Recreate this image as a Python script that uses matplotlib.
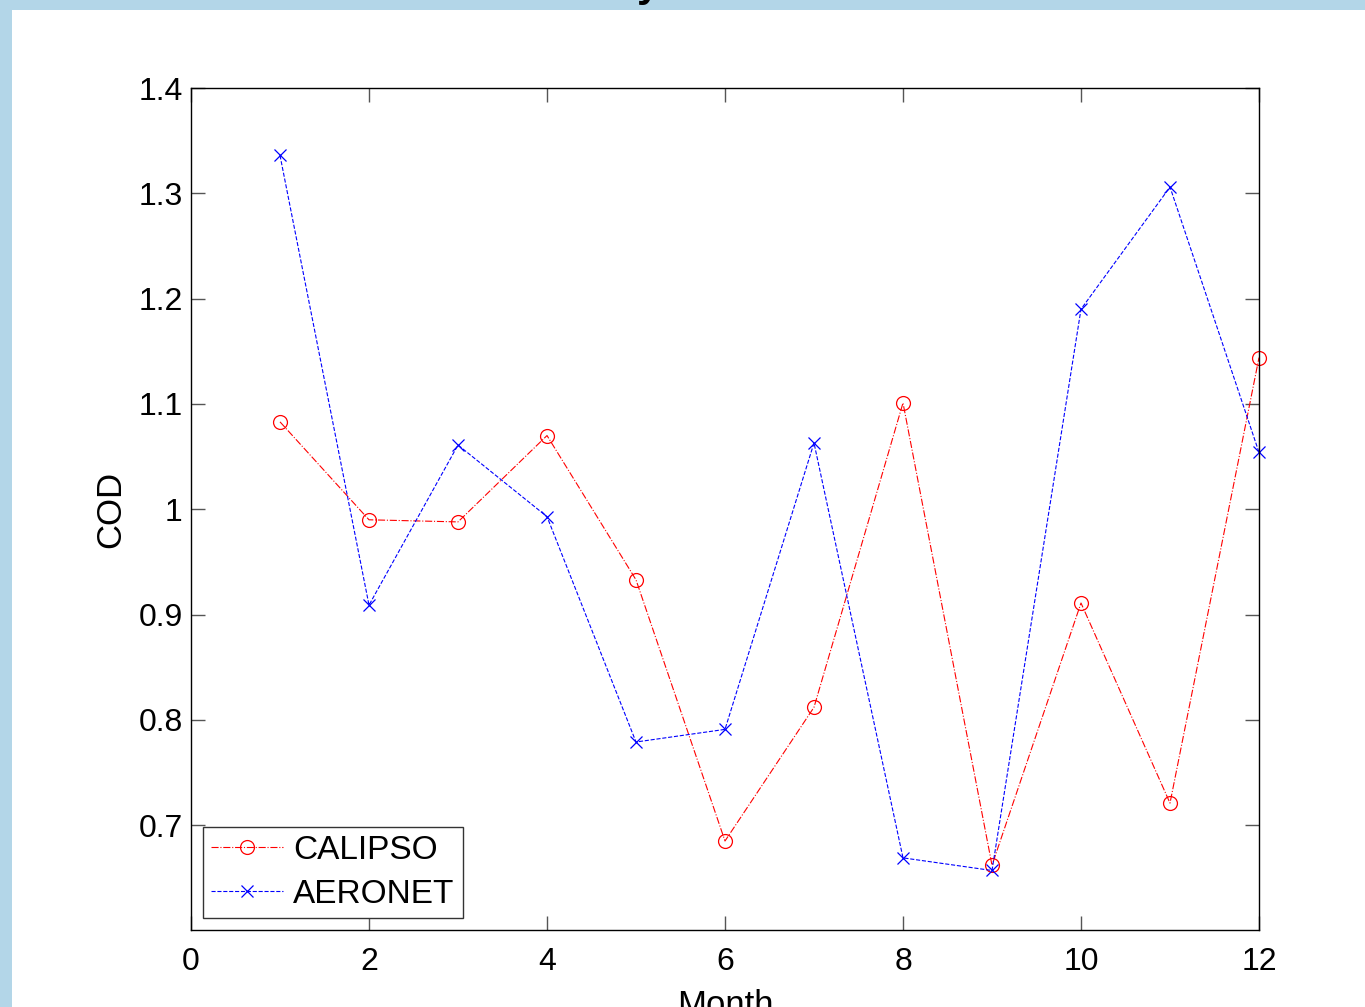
import matplotlib
matplotlib.use("Agg")
import matplotlib.pyplot as plt
from matplotlib.patches import Rectangle

months = [1, 2, 3, 4, 5, 6, 7, 8, 9, 10, 11, 12]
calipso = [1.083, 0.990, 0.988, 1.070, 0.933, 0.685, 0.812, 1.101, 0.662, 0.911, 0.721, 1.144]
aeronet = [1.336, 0.909, 1.061, 0.993, 0.779, 0.791, 1.063, 0.669, 0.657, 1.190, 1.306, 1.054]
xticks = [0, 2, 4, 6, 8, 10, 12]
yticks = [0.7, 0.8, 0.9, 1.0, 1.1, 1.2, 1.3, 1.4]
ytick_labels = ["0.7", "0.8", "0.9", "1", "1.1", "1.2", "1.3", "1.4"]

plt.rcParams['font.family'] = ['Liberation Sans', 'DejaVu Sans']

W, H = 1365, 1007
fig = plt.figure(figsize=(W / 100, H / 100), dpi=100)
fig.patch.set_facecolor('#B3D6E8')
bg = Rectangle((12 / W, 0), 1 - 12 / W, 1 - 10 / H, transform=fig.transFigure,
               facecolor='white', edgecolor='none', zorder=-10)
fig.add_artist(bg)

# partially visible title
fig.text(648 / W, 1 + 4 / H, "y", ha='center', va='baseline', fontsize=30,
         fontweight='bold', color='black', zorder=5)

ax = fig.add_axes([191 / W, (H - 930) / H, (1259 - 191) / W, (930 - 88) / H])
ax.patch.set_alpha(0)
ax.plot(months, calipso, color='red', linestyle='-.', linewidth=0.8, marker='o',
        markersize=10, markerfacecolor='none', markeredgewidth=0.9, label='CALIPSO',
        clip_on=False)
ax.plot(months, aeronet, color='blue', linestyle='--', linewidth=0.8, marker='x',
        markersize=8, markeredgewidth=0.9, label='AERONET', clip_on=False)

ax.set_xlim(0, 12)
ax.set_ylim(0.6005, 1.4)
ax.set_xticks(xticks)
ax.set_xticklabels([str(t) for t in xticks])
ax.set_yticks(yticks)
ax.set_yticklabels(ytick_labels)
ax.tick_params(direction='in', length=10, width=1, color='#555555', labelsize=23,
               top=True, right=True)
ax.tick_params(axis='x', pad=12)
ax.tick_params(axis='y', pad=6)
for s in ax.spines.values():
    s.set_linewidth(1.0)
    s.set_color('black')

ax.set_xlabel('Month', fontsize=25, labelpad=9)
ax.set_ylabel('COD', fontsize=25, labelpad=8)

leg = ax.legend(loc='lower left', bbox_to_anchor=(12 / 1068, 12 / 842), fontsize=24,
                frameon=True, fancybox=False, edgecolor='#333333', framealpha=1,
                borderaxespad=0, handlelength=2.15, handletextpad=0.3, borderpad=0.25,
                labelspacing=0.38)
leg.get_frame().set_linewidth(1.0)

fig.savefig('out.png', dpi=100, facecolor=fig.get_facecolor())
